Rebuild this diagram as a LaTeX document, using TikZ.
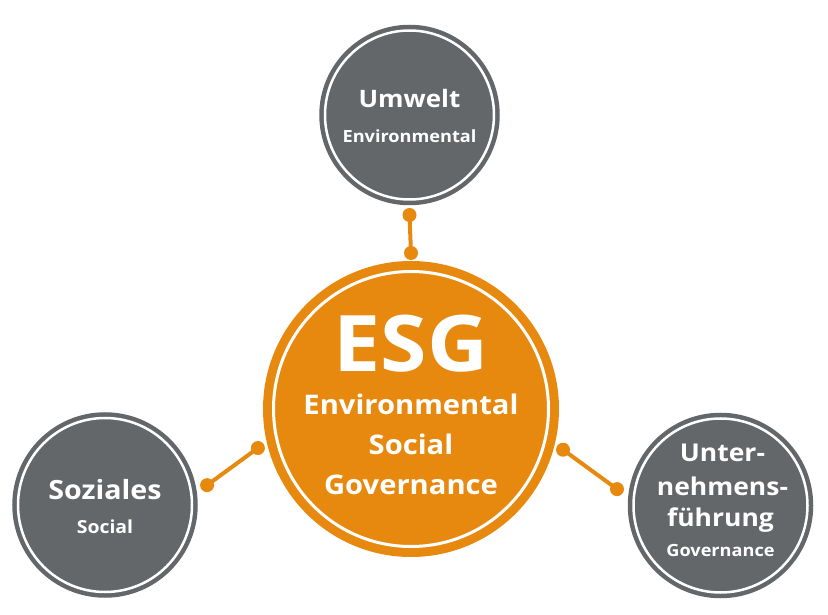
\documentclass[tikz,border=0pt]{standalone}
\usepackage{fontspec}
\setmainfont[FakeStretch=1.08]{Open Sans}
\usetikzlibrary{calc}
\definecolor{esgorange}{HTML}{E8890F}
\definecolor{esggray}{HTML}{63676A}

\begin{document}
\begin{tikzpicture}[x=1pt, y=1pt, line cap=round,
  hub/.style={circle, inner sep=0pt, fill=esgorange, draw=esgorange, double=white, line width=9pt, double distance=3pt, minimum size=275pt},
  pillar/.style={circle, inner sep=0pt, fill=esggray, draw=esggray, double=white, line width=4.5pt, double distance=2.5pt, minimum size=174pt},
  hubtxt/.style={text=white, inner sep=0pt, font=\bfseries\fontsize{27}{27}\selectfont},
  headtxt/.style={text=white, inner sep=0pt, font=\bfseries\fontsize{24.5}{24.5}\selectfont},
  subtxt/.style={text=white, inner sep=0pt, font=\bfseries\fontsize{16.8}{16.8}\selectfont},
  link/.style={draw=esgorange, line width=4pt},
  knob/.style={fill=esgorange}]
  \useasboundingbox (0,0) rectangle (828,614);
  % Circles: the hub and its three pillars.
  \node[hub] (esg) at (411,205) {};
  \node[pillar, minimum size=169pt] (umwelt) at (409.5,499) {};
  \node[pillar] (soziales) at (105,109) {};
  \node[pillar] (fuehrung) at (720.5,108.5) {};
  % Texts in the hub.
  \node[text=white, inner sep=0pt, font=\bfseries\fontsize{78}{78}\selectfont] (esgT) at ($(esg)+(0,65)$) {ESG};
  \node[hubtxt] (esgE) at ($(esg)+(0,5)$) {Environmental};
  \node[hubtxt] (esgS) at ($(esg)+(0,-35)$) {Social};
  \node[hubtxt] (esgG) at ($(esg)+(0,-76)$) {Governance};
  % Texts in the pillars.
  \node[headtxt, font=\bfseries\fontsize{24}{24}\selectfont] (umweltT) at ($(umwelt)+(0,16.5)$) {Umwelt};
  \node[subtxt] (umweltE) at ($(umwelt)+(0,-21.5)$) {Environmental};
  \node[headtxt, font=\bfseries\fontsize{26.5}{26.5}\selectfont] (sozialesT) at ($(soziales)+(0,15)$) {Soziales};
  \node[subtxt, font=\bfseries\fontsize{18}{18}\selectfont] (sozialesE) at ($(soziales)+(0,-22)$) {Social};
  \node[headtxt] (fuehrungA) at ($(fuehrung)+(2,52.5)$) {Unter-};
  \node[headtxt] (fuehrungB) at ($(fuehrung)+(2,19)$) {nehmens-};
  \node[headtxt] (fuehrungC) at ($(fuehrung)+(0,-14.5)$) {führung};
  \node[subtxt] (fuehrungE) at ($(fuehrung)+(0,-44.5)$) {Governance};
  % Connector end points.
  \coordinate (topIn) at ($(esg)+(90:156)$);
  \coordinate (topOut) at ($(umwelt)+(270:100)$);
  \coordinate (leftIn) at ($(esg)+(194.3:158)$);
  \coordinate (leftOut) at ($(soziales)+(11:104)$);
  \coordinate (rightIn) at ($(esg)+(345:157.4)$);
  \coordinate (rightOut) at ($(fuehrung)+(171:104.8)$);
  % Connectors with round knobs.
  \draw[link] (topIn) -- (topOut);
  \draw[link] (leftIn) -- (leftOut);
  \draw[link] (rightIn) -- (rightOut);
  \foreach \p in {topIn,topOut,leftIn,leftOut,rightIn,rightOut}
    \fill[knob] (\p) circle (7);
\end{tikzpicture}
\end{document}
